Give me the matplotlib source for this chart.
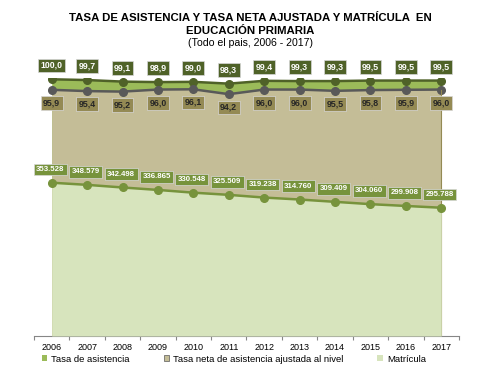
import matplotlib.pyplot as plt
import numpy as np
from matplotlib.patches import Patch

years = ["2006", "2007", "2008", "2009", "2010", "2011",
         "2012", "2013", "2014", "2015", "2016", "2017"]
asistencia = [100.0, 99.7, 99.1, 98.9, 99.0, 98.3, 99.4, 99.3, 99.3, 99.5, 99.5, 99.5]
tasa_neta = [95.9, 95.4, 95.2, 96.0, 96.1, 94.2, 96.0, 96.0, 95.5, 95.8, 95.9, 96.0]
matricula = [353528, 348579, 342498, 336865, 330548, 325509,
             319238, 314760, 309409, 304060, 299908, 295788]

plt.rcParams["font.family"] = ["Liberation Sans", "DejaVu Sans"]

fig = plt.figure(figsize=(5, 3.75), dpi=100)
ax = fig.add_axes([0.068, 0.104, 0.85, 0.688])
ax2 = ax.twinx()

x = np.arange(len(years))

# rates on the primary axis
ax.fill_between(x, asistencia, 0, color="#9BBB59", lw=0)
ax.fill_between(x, tasa_neta, 0, color="#C4BD97", lw=0)
ax.plot(x, asistencia, color="#4F6228", lw=1.8, marker="o", ms=5.5)
ax.plot(x, tasa_neta, color="#595959", lw=1.8, marker="o", ms=5.5)
ax.plot([x[-1], x[-1]], [0, tasa_neta[-1]], color="#948A54", lw=0.8)
ax.set_ylim(0, 100.5)

# enrolment on the secondary axis
ax2.fill_between(x, matricula, 0, color="#D7E4BD", lw=0)
ax2.plot(x, matricula, color="#77933C", lw=1.8, marker="o", ms=5.5)
ax2.set_ylim(0, 595000)

lab = dict(fontweight="bold", ha="center", va="center", textcoords="offset points")
box = dict(boxstyle="square,pad=0.27", ec="#D8D8D8", lw=0.5)
for i in x:
    ax.annotate(f"{asistencia[i]:.1f}".replace(".", ","), (i, asistencia[i]),
                xytext=(0, 10), color="white", fontsize=6.3,
                bbox=dict(box, fc="#4F6228"), **lab)
    ax.annotate(f"{tasa_neta[i]:.1f}".replace(".", ","), (i, tasa_neta[i]),
                xytext=(0, -9.5), color="#262626", fontsize=6.3,
                bbox=dict(box, fc="#948A54"), **lab)
    ax2.annotate(f"{matricula[i]:,}".replace(",", "."), (i, matricula[i]),
                 xytext=(-1, 9.5), color="white", fontsize=5.7,
                 bbox=dict(box, fc="#77933C", boxstyle="square,pad=0.3"), **lab)

ax.set_xlim(-0.5, len(years) - 0.5)
ax.set_xticks(np.arange(-0.5, len(years)), labels=[""] * (len(years) + 1))
ax.set_xticks(x, labels=years, minor=True)
ax.tick_params(axis="x", which="major", length=3, color="#868686")
ax.tick_params(axis="x", which="minor", length=0, labelsize=6.5, pad=5)
ax.set_yticks([])
ax2.set_yticks([])
for a in (ax, ax2):
    for s in ("left", "right", "top"):
        a.spines[s].set_visible(False)
ax.spines["bottom"].set_color("#868686")
ax2.spines["bottom"].set_visible(False)

fig.text(0.5, 0.952, "TASA DE ASISTENCIA Y TASA NETA AJUSTADA Y MATRÍCULA  EN",
         ha="center", va="center", fontsize=8.2, fontweight="bold")
fig.text(0.5, 0.918, "EDUCACIÓN PRIMARIA", ha="center", va="center",
         fontsize=8.2, fontweight="bold")
fig.text(0.5, 0.884, "(Todo el pais, 2006 - 2017)", ha="center", va="center", fontsize=7.6)

handles = [Patch(fc="#9BBB59", ec="none"),
           Patch(fc="#C4BD97", ec="#595959", lw=0.5),
           Patch(fc="#D7E4BD", ec="none")]
ax.legend(handles, ["Tasa de asistencia", "Tasa neta de asistencia ajustada al nivel", "Matrícula"],
          loc="center", bbox_to_anchor=(0.47, -0.09), ncol=3, frameon=False,
          fontsize=6.8, handlelength=0.6, handleheight=0.6, handletextpad=0.4,
          columnspacing=3.6)

fig.savefig("out.png", dpi=100)
